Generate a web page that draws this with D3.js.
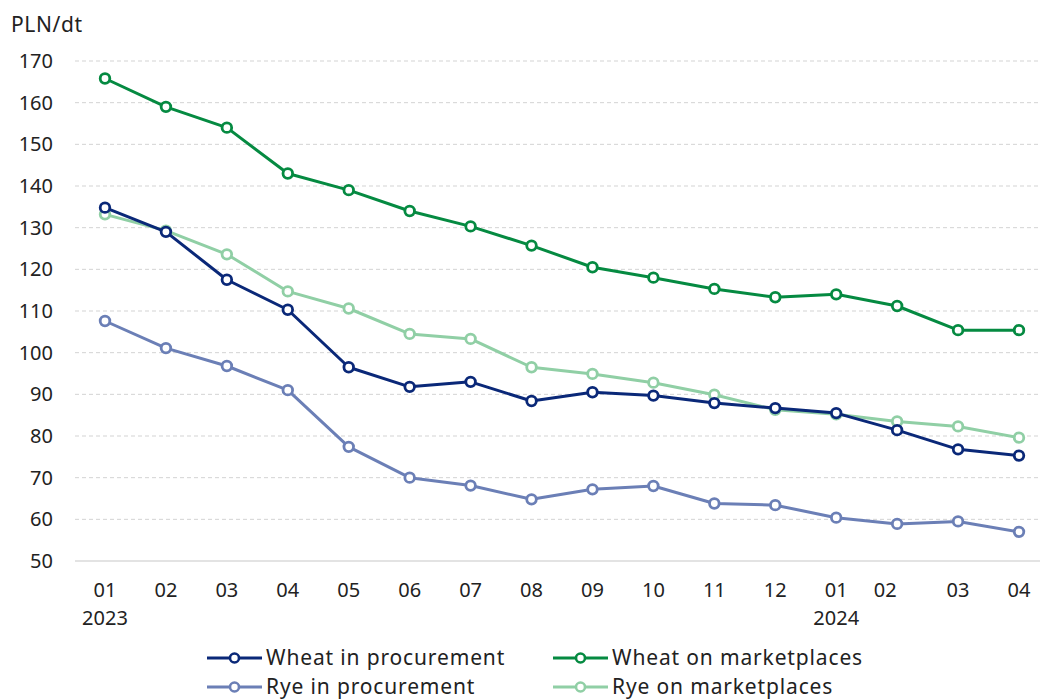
<!DOCTYPE html>
<html><head><meta charset="utf-8">
<script src="https://cdn.jsdelivr.net/npm/d3@7"></script>
<style>body{margin:0;background:#fff}svg{display:block;font-family:"Noto Sans",sans-serif}</style>
</head><body><svg id="c" width="1040" height="700"></svg>
<script>
const months = ["01","02","03","04","05","06","07","08","09","10","11","12","01","02","03","04"];
const yearLabels = {0:"2023",12:"2024"};
const yTicks = [50,60,70,80,90,100,110,120,130,140,150,160,170];
const wheatProcurement = [134.8,129,117.5,110.3,96.5,91.8,93,88.4,90.5,89.7,87.9,86.7,85.5,81.4,76.8,75.3];
const wheatMarketplaces = [165.8,159,154,143,139,134,130.3,125.7,120.5,118,115.3,113.3,114,111.2,105.4,105.4];
const ryeProcurement = [107.6,101.1,96.8,91,77.4,70,68.1,64.8,67.2,68,63.8,63.4,60.4,58.9,59.5,57];
const ryeMarketplaces = [133.2,129.3,123.6,114.7,110.6,104.5,103.3,96.5,94.9,92.8,89.9,86.3,85.2,83.5,82.3,79.6];
const seriesNames = ["Wheat in procurement","Wheat on marketplaces","Rye in procurement","Rye on marketplaces"];
const seriesColors = ["#0a2878","#058a41","#6b7fb6","#90cfa5"];
const seriesData = [wheatProcurement,wheatMarketplaces,ryeProcurement,ryeMarketplaces];

const svg = d3.select("#c");
const x = d3.scalePoint().domain(d3.range(months.length)).range([105,1019]);
const y = d3.scaleLinear().domain([50,170]).range([561,61]);

// gridlines
svg.append("g").selectAll("line").data(yTicks.filter(t=>t>50)).join("line")
  .attr("x1",75).attr("x2",1040).attr("y1",d=>y(d)).attr("y2",d=>y(d))
  .attr("stroke","#d3d3d3").attr("stroke-width",1).attr("stroke-dasharray","4,3");
svg.append("line").attr("x1",75).attr("x2",1040).attr("y1",y(50)).attr("y2",y(50))
  .attr("stroke","#c8c8c8").attr("stroke-width",1.2);

// y labels
svg.append("g").selectAll("text").data(yTicks).join("text")
  .attr("x",53).attr("y",d=>y(d)).attr("dy","0.35em").attr("text-anchor","end")
  .attr("font-size",20).attr("fill","#222").text(d=>d);
svg.append("text").attr("x",11).attr("y",32).attr("font-size",21).attr("letter-spacing",0.6).attr("fill","#222").text("PLN/dt");

// x labels
svg.append("g").selectAll("text").data(months).join("text")
  .attr("x",(d,i)=>x(i) + (i===13?-12:0)).attr("y",597).attr("text-anchor","middle")
  .attr("font-size",20).attr("fill","#222").text(d=>d);
svg.append("g").selectAll("text").data(Object.keys(yearLabels)).join("text")
  .attr("x",d=>x(+d)).attr("y",625).attr("text-anchor","middle")
  .attr("font-size",20).attr("fill","#222").text(d=>yearLabels[d]);

// lines
const line = d3.line().x((d,i)=>x(i)).y(d=>y(d));
const drawOrder = [3,2,1,0];
drawOrder.forEach(k=>{
  const g = svg.append("g");
  g.append("path").datum(seriesData[k]).attr("d",line).attr("fill","none")
   .attr("stroke",seriesColors[k]).attr("stroke-width",3).attr("stroke-linejoin","round");
  g.selectAll("circle").data(seriesData[k]).join("circle")
   .attr("cx",(d,i)=>x(i)).attr("cy",d=>y(d)).attr("r",4.8)
   .attr("fill","#fff").attr("stroke",seriesColors[k]).attr("stroke-width",2.8);
});

// legend
const legPos = [[207,658],[553,658],[207,687],[553,687]];
seriesNames.forEach((n,k)=>{
  const [lx,ly]=legPos[k];
  const g=svg.append("g");
  g.append("line").attr("x1",lx).attr("x2",lx+55).attr("y1",ly).attr("y2",ly)
   .attr("stroke",seriesColors[k]).attr("stroke-width",3);
  g.append("circle").attr("cx",lx+27.5).attr("cy",ly).attr("r",4.5)
   .attr("fill","#fff").attr("stroke",seriesColors[k]).attr("stroke-width",2.6);
  g.append("text").attr("x",lx+59).attr("y",ly).attr("dy","0.35em")
   .attr("font-size",21).attr("letter-spacing",0.85).attr("fill","#222").text(n);
});
</script></body></html>
